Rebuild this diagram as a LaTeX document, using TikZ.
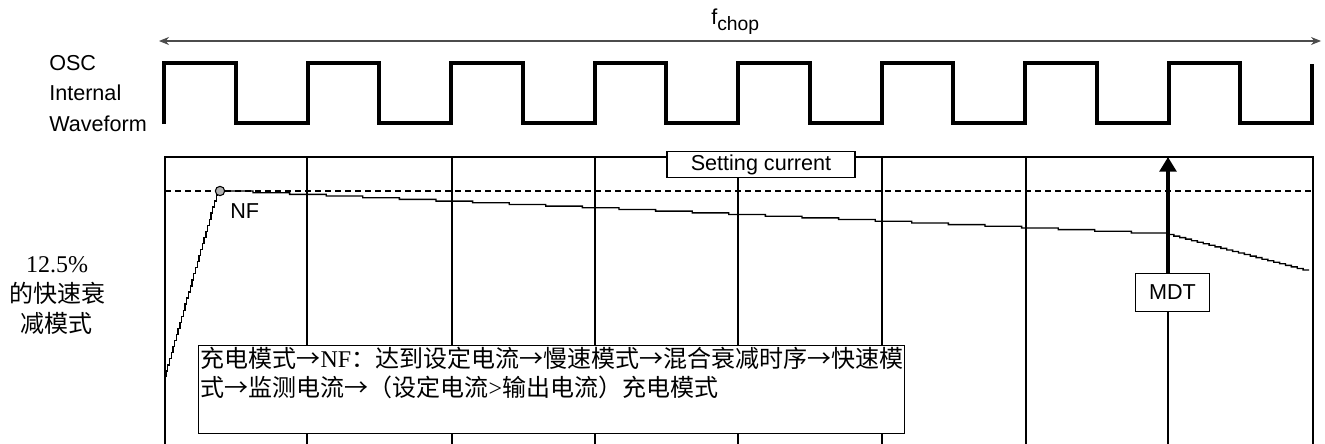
\documentclass[tikz,border=0pt]{standalone}
\usepackage{fontspec}
\setmainfont{Liberation Serif}
\setsansfont{Liberation Sans}
\newfontfamily\cjk{Noto Sans CJK SC}
\usetikzlibrary{arrows.meta}
\begin{document}
\begin{tikzpicture}[x=0.75pt,y=-0.75pt,
  lbl/.style={font=\sffamily\fontsize{16.2pt}{19pt}\selectfont, inner sep=0pt},
  wave/.style={line width=3pt, line join=miter},
  frame/.style={line width=0.9pt},
  boxed/.style={draw, line width=0.9pt, fill=white, inner sep=0pt},
  setline/.style={dash pattern=on 4.5pt off 3pt, line width=0.9pt},
  trace/.style={line width=1pt},
  cn/.style={font=\fontsize{18pt}{22.5pt}\selectfont, inner sep=0pt}
]
\useasboundingbox (0,0) rectangle (1325,443);
\clip (0,0) rectangle (1325,443);

% labels of the oscillator
\node[lbl, anchor=base west] (osc1) at (49,70) {OSC};
\node[lbl, anchor=base west] (osc2) at (49,100) {Internal};
\node[lbl, anchor=base west] (osc3) at (49,131) {Waveform};

% f_chop arrow
\node[lbl, anchor=base west] (fchop) at (711,24) {f\raisebox{-4.5pt}{\fontsize{14.5pt}{16pt}\selectfont chop}};
\coordinate (fl) at (159,41);
\coordinate (fr) at (1321,41);
\draw[line width=0.8pt, draw=black!70, {Stealth[length=7.5pt,width=6pt]}-{Stealth[length=7.5pt,width=6pt]}] (fl) -- (fr);

% square wave
\draw[wave] (164,124)
  \foreach \k in {0,...,7} {
    -- ({164+143.5*\k},63) -- ({235.75+143.5*\k},63)
    -- ({235.75+143.5*\k},123) -- ({307.5+143.5*\k},123)
  } -- (1312,64);

% frame and grid
\draw[frame] (165,460) -- (165,157) -- (1313,157) -- (1313,460);
\foreach \gx in {307,452,595,738,882,1026,1168} {
  \draw[frame] (\gx,157) -- (\gx,460);
}

% setting current level
\draw[setline] (165,191) -- (1313,191);

% current trace
\draw[trace] (166,377)
  \foreach \j in {1,...,30} {
    -- ({166+1.733*(\j-1)},{377-6.07*\j}) -- ({166+1.733*\j},{377-6.07*\j})
  };
\draw[trace] (220,191) -- (253,191)
  \foreach \i in {0,...,24} {
    -- ({253+36.6*\i},{191+1.68*\i}) -- ({253+36.6*\i},{191+1.68*(\i+1)})
  } -- (1168,233)
  \foreach \j in {1,...,24} {
    -- ({1168+5.875*(\j-1)},{233+1.54*\j}) -- ({1168+5.875*\j},{233+1.54*\j})
  };
\node[circle, draw, line width=0.8pt, fill=black!30, minimum size=7pt, inner sep=0pt] (nfdot) at (220,191) {};
\node[lbl, anchor=base west] (nf) at (230,218) {NF};

% boxes
\node[boxed, lbl, minimum width=141pt, minimum height=20pt] (setcur) at (761,164.5) {Setting current};
\node[boxed, lbl, minimum width=55pt, minimum height=29pt] (mdt) at (1172.5,292.5) {MDT};
\coordinate (mdttop) at (1168,157);
\draw[line width=3pt, -{Triangle[length=11pt,width=12.5pt]}] (mdt.north -| mdttop) -- (mdttop);

\node[boxed, anchor=north west, inner sep=1.5pt] (desc) at (198,345)
  {\parbox[t][63pt][t]{526.5pt}{\fontsize{18pt}{21.75pt}\selectfont
   \mbox{{\cjk 充电模式→}NF{\cjk ：达到设定电流→慢速模式→混合衰减时序→快速模}}\\
   \mbox{{\cjk 式→监测电流→（设定电流}>{\cjk 输出电流）充电模式}}}};

% left label
\node[cn, align=center] (pct) at (57,296) {12.5\%\\{\cjk 的快速衰}\\{\cjk 减模式}};
\end{tikzpicture}
\end{document}
